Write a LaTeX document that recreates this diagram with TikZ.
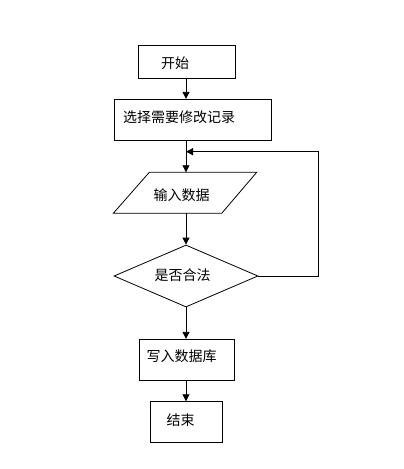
\documentclass[tikz,border=0pt]{standalone}
\usepackage{fontspec}
\newfontfamily\cjk{Noto Sans CJK SC}
\usetikzlibrary{arrows.meta,shapes.geometric}
\begin{document}
\begin{tikzpicture}[x=1pt,y=-1pt,
  box/.style={draw=black,line width=0.8pt,inner sep=0pt,rectangle},
  dia/.style={draw=black,line width=0.8pt,inner sep=0pt,diamond,minimum width=144pt,minimum height=62pt},
  txt/.style={inner sep=0pt,anchor=west,font=\cjk\fontsize{14pt}{16pt}\selectfont},
  arr/.style={draw=black,line width=0.8pt,-{Triangle[length=7pt,width=7pt]}},
  ln/.style={draw=black,line width=0.8pt}]
\useasboundingbox (0,0) rectangle (404,469);
\fill[white] (0,0) rectangle (404,469);
% shapes
\node[box,minimum width=97pt,minimum height=32.5pt] (start) at (186.5,62) {};
\node[box,minimum width=157.5pt,minimum height=41.5pt] (sel) at (193,120) {};
\coordinate (pA) at (149.3,172.3);
\coordinate (pB) at (256.7,172.3);
\coordinate (pC) at (221.7,213.3);
\coordinate (pD) at (113.3,213.3);
\draw[ln] (pA) -- (pB) -- (pC) -- (pD) -- cycle;
\coordinate (inTop) at (186,172.3);
\coordinate (inBot) at (186,213.3);
\node[dia] (chk) at (186,276) {};
\node[box,minimum width=95.5pt,minimum height=41.5pt] (wr) at (186.7,360) {};
\node[box,minimum width=72.5pt,minimum height=41pt] (end) at (186.3,422.2) {};
% texts
\node[txt] (tStart) at (161,63) {开始};
\node[txt] (tSel) at (123,116.7) {选择需要修改记录};
\node[txt] (tIn) at (153.5,195) {输入数据};
\node[txt] (tChk) at (154.5,275) {是否合法};
\node[txt] (tWr) at (146.5,356) {写入数据库};
\node[txt] (tEnd) at (166.5,420) {结束};
% connectors
\coordinate (loopR) at (318.3,276);
\coordinate (loopT) at (318.3,151.7);
\coordinate (loopE) at (186,151.7);
\draw[arr] (start.south -| chk.north) -- (sel.north -| chk.north);
\draw[arr] (sel.south -| chk.north) -- (inTop);
\draw[arr] (inBot) -- (chk.north);
\draw[arr] (chk.south) -- (wr.north -| chk.south);
\draw[arr] (wr.south -| chk.south) -- (end.north -| chk.south);
\draw[arr] (chk.east) -- (loopR) -- (loopT) -- (loopE);
\end{tikzpicture}
\end{document}
